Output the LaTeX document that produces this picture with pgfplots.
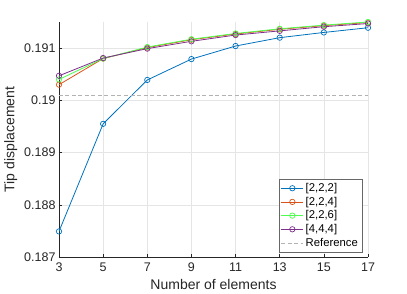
\documentclass[border=0pt]{standalone}
\usepackage{pgfplots}
\pgfplotsset{compat=1.18}
\usepackage{fontspec}
\setmainfont{Liberation Sans}
\definecolor{mblue}{rgb}{0,0.447,0.741}
\definecolor{morange}{rgb}{0.85,0.325,0.098}
\definecolor{mgreen}{rgb}{0.3,1,0.3}
\definecolor{mpurple}{rgb}{0.494,0.184,0.556}
\definecolor{mgrid}{rgb}{0.9,0.9,0.9}
\definecolor{maxis}{rgb}{0.15,0.15,0.15}
\begin{document}
\begin{tikzpicture}
\useasboundingbox (-59pt,-37pt) rectangle (348pt,257pt);
\begin{axis}[
  scale only axis, width=309pt, height=235pt,
  xmin=3, xmax=17, ymin=0.187, ymax=0.1915,
  xtick={3,5,...,17},
  ytick={0.187,0.188,0.189,0.19,0.191},
  /pgf/number format/assume math mode=true,
  yticklabel style={/pgf/number format/fixed,/pgf/number format/precision=3},
  scaled y ticks=false,
  axis lines*=left,
  axis line style={maxis,line width=0.5pt},
  tick style={maxis,line width=0.5pt},
  tick align=inside, major tick length=3pt,
  grid=major, grid style={mgrid,line width=0.5pt},
  ticklabel style={font=\fontsize{12.5}{14}\selectfont, text=maxis},
  xticklabel style={yshift=-2.5pt},
  xlabel={Number of elements}, ylabel={Tip displacement},
  label style={font=\fontsize{14}{16}\selectfont, text=maxis},
  xlabel style={yshift=-1pt},
  ylabel style={yshift=0pt},
  legend style={at={(0.981,0.021)}, anchor=south east, font=\fontsize{11.3}{13}\selectfont,
    draw=maxis!70, line width=0.5pt, inner sep=2pt, row sep=0pt, cells={anchor=west}},
  legend cell align=left,
  every axis plot/.append style={line width=0.8pt},
  mark options={solid, fill=none, line width=0.7pt},
  mark size=2.7pt,
  legend image code/.code={
    \draw[#1, mark repeat=2, mark phase=2] plot coordinates {(0pt,0pt) (11pt,0pt) (22pt,0pt)};
  },
]
\addplot[mblue, mark=o] coordinates {
(3,0.18749) (5,0.18955) (7,0.19039) (9,0.19079) (11,0.19104) (13,0.19120) (15,0.19130) (17,0.19139)};
\addlegendentry{[2,2,2]}
\addplot[morange, mark=o] coordinates {
(3,0.19030) (5,0.19080) (7,0.19101) (9,0.19116) (11,0.19127) (13,0.19136) (15,0.19143) (17,0.19149)};
\addlegendentry{[2,2,4]}
\addplot[mgreen, mark=o] coordinates {
(3,0.19040) (5,0.19080) (7,0.19102) (9,0.19117) (11,0.19128) (13,0.19137) (15,0.19144) (17,0.19150)};
\addlegendentry{[2,2,6]}
\addplot[mpurple, mark=o] coordinates {
(3,0.19047) (5,0.19081) (7,0.19099) (9,0.19113) (11,0.19125) (13,0.19133) (15,0.19141) (17,0.19147)};
\addlegendentry{[4,4,4]}
\addplot[gray!60, dashed, dash pattern=on 4pt off 2.5pt, line width=0.7pt, mark=none] coordinates {(3,0.19009) (17,0.19009)};
\addlegendentry{Reference}
\end{axis}
\end{tikzpicture}
\end{document}
